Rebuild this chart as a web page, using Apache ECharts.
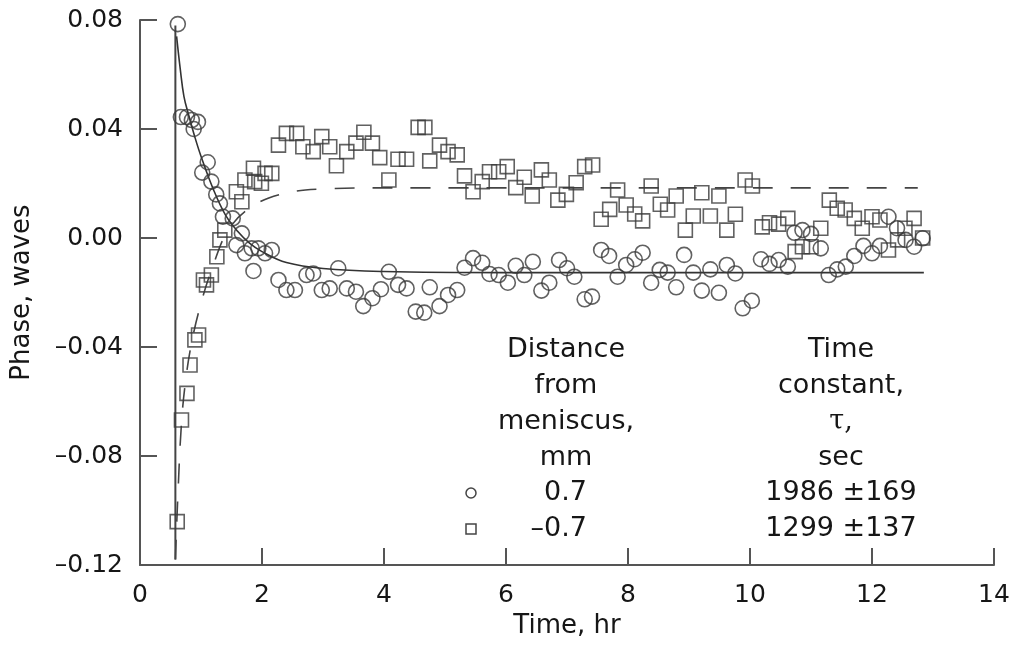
<!DOCTYPE html>
<html>
<head>
<meta charset="utf-8">
<script src="https://cdn.jsdelivr.net/npm/echarts@6/dist/echarts.min.js"></script>
<style>
html,body{margin:0;padding:0;background:#fff;}
#c{width:1014px;height:645px;}
</style>
</head>
<body>
<div id="c"></div>
<script>
// ---- data ----
const xTicks = [0, 2, 4, 6, 8, 10, 12, 14];
const yTicks = [-0.12, -0.08, -0.04, 0.00, 0.04, 0.08];

// circles: distance from meniscus 0.7 mm
const circT = [0.62,0.67,0.77,0.85,0.95,0.88,1.11,1.02,1.17,1.25,1.31,1.36,1.52,1.67,1.58,1.72,1.83,1.94,2.05,2.16,1.86,2.27,2.40,2.54,2.73,2.84,2.98,3.11,3.25,3.39,3.54,3.66,3.81,3.95,4.08,4.23,4.37,4.52,4.66,4.75,4.91,5.05,5.20,5.32,5.46,5.61,5.73,5.88,6.03,6.16,6.30,6.44,6.58,6.71,6.87,7.00,7.12,7.29,7.41,7.56,7.69,7.83,7.97,8.11,8.24,8.38,8.52,8.65,8.79,8.92,9.07,9.21,9.35,9.49,9.62,9.76,9.88,10.03,10.18,10.32,10.47,10.62,10.73,10.86,11.00,11.16,11.29,11.43,11.57,11.71,11.86,12.00,12.13,12.27,12.41,12.55,12.69,12.83];
const circY = [0.0785,0.0444,0.0444,0.0433,0.0426,0.0400,0.0278,0.0240,0.0207,0.0160,0.0127,0.0078,0.0072,0.0017,-0.0026,-0.0056,-0.0038,-0.0038,-0.0056,-0.0044,-0.0121,-0.0154,-0.0191,-0.0191,-0.0136,-0.0130,-0.0191,-0.0185,-0.0111,-0.0185,-0.0197,-0.0250,-0.0221,-0.0188,-0.0124,-0.0172,-0.0185,-0.0270,-0.0274,-0.0181,-0.0250,-0.0209,-0.0191,-0.0109,-0.0074,-0.0091,-0.0132,-0.0136,-0.0164,-0.0102,-0.0136,-0.0087,-0.0193,-0.0164,-0.0081,-0.0111,-0.0142,-0.0225,-0.0215,-0.0044,-0.0066,-0.0142,-0.0099,-0.0078,-0.0054,-0.0164,-0.0117,-0.0127,-0.0181,-0.0062,-0.0127,-0.0193,-0.0115,-0.0201,-0.0099,-0.0130,-0.0258,-0.0230,-0.0078,-0.0095,-0.0081,-0.0105,0.0019,0.0029,0.0015,-0.0038,-0.0136,-0.0115,-0.0105,-0.0066,-0.0029,-0.0056,-0.0029,0.0078,0.0036,-0.0007,-0.0032,-0.0001];

// squares: distance from meniscus -0.7 mm
const sqT = [0.61,0.68,0.77,0.82,0.90,0.96,1.04,1.09,1.17,1.26,1.31,1.39,1.58,1.67,1.72,1.88,1.99,1.86,2.05,2.16,2.27,2.40,2.57,2.67,2.84,2.98,3.11,3.22,3.39,3.54,3.67,3.81,3.93,4.08,4.23,4.37,4.56,4.67,4.75,4.91,5.05,5.20,5.32,5.46,5.61,5.73,5.88,6.02,6.16,6.30,6.43,6.58,6.71,6.85,6.99,7.15,7.29,7.42,7.56,7.70,7.83,7.97,8.11,8.24,8.38,8.53,8.65,8.79,8.94,9.07,9.21,9.35,9.49,9.62,9.76,9.92,10.04,10.20,10.32,10.47,10.62,10.74,10.86,11.00,11.16,11.30,11.43,11.56,11.71,11.84,12.00,12.13,12.27,12.42,12.54,12.69,12.83];
const sqY = [-0.1041,-0.0668,-0.0570,-0.0466,-0.0374,-0.0356,-0.0154,-0.0172,-0.0136,-0.0069,-0.0007,0.0029,0.0170,0.0133,0.0213,0.0207,0.0201,0.0256,0.0237,0.0237,0.0341,0.0384,0.0384,0.0335,0.0317,0.0372,0.0335,0.0265,0.0317,0.0348,0.0388,0.0348,0.0295,0.0213,0.0289,0.0289,0.0406,0.0406,0.0283,0.0341,0.0317,0.0305,0.0228,0.0170,0.0207,0.0243,0.0243,0.0262,0.0185,0.0223,0.0154,0.0250,0.0213,0.0139,0.0160,0.0203,0.0262,0.0268,0.0069,0.0105,0.0176,0.0121,0.0088,0.0063,0.0191,0.0124,0.0103,0.0154,0.0029,0.0081,0.0166,0.0081,0.0154,0.0029,0.0087,0.0213,0.0191,0.0041,0.0056,0.0051,0.0072,-0.0050,-0.0032,-0.0032,0.0036,0.0139,0.0109,0.0103,0.0072,0.0036,0.0078,0.0066,-0.0044,-0.0007,0.0036,0.0072,0.0000];

// fitted curves
const fitCircT = [0.60,0.66,0.72,0.80,0.90,1.00,1.20,1.40,1.60,1.80,2.00,2.40,3.00,4.00,6.00,12.85];
const fitCircY = [0.074,0.062,0.052,0.045,0.037,0.030,0.018,0.0085,0.0025,-0.0020,-0.0050,-0.0090,-0.0112,-0.0123,-0.0127,-0.0127];
const fitSqT = [0.58,0.62,0.68,0.75,0.85,1.00,1.20,1.45,1.80,2.30,3.00,4.00,12.75];
const fitSqY = [-0.118,-0.095,-0.068,-0.052,-0.038,-0.024,-0.010,0.003,0.011,0.0160,0.0180,0.0184,0.0184];

// vertical start marker
const startT = [0.58, 0.58];
const startY = [0.078, -0.118];

// legend text
const legendLeftHead = ['Distance', 'from', 'meniscus,', 'mm'];
const legendRightHead = ['Time', 'constant,', 'τ,', 'sec'];
const seriesDistance = ['0.7', '–0.7'];
const seriesTau = ['1986 ±169', '1299 ±137'];

// ---- chart ----
const zip = (a, b) => a.map((v, i) => [v, b[i]]);
const FONT = '"DejaVu Sans", "Liberation Sans", Arial, sans-serif';
const INK = '#161616';
const AX = '#555';

const chart = echarts.init(document.getElementById('c'), null, {renderer: 'canvas'});

const rowY = [350, 386, 422, 458, 493, 529];
const graphics = [];
legendLeftHead.forEach((t, i) => graphics.push({
  type: 'text', x: 566, y: rowY[i],
  style: {text: t, textAlign: 'center', textVerticalAlign: 'middle', font: '27px ' + FONT, fill: INK}
}));
legendRightHead.forEach((t, i) => graphics.push({
  type: 'text', x: 841, y: rowY[i],
  style: {text: t, textAlign: 'center', textVerticalAlign: 'middle',
    font: (t === 'τ,' ? '27px "DejaVu Serif", "Liberation Serif", serif' : '27px ' + FONT), fill: INK}
}));
seriesDistance.forEach((t, i) => graphics.push({
  type: 'text', x: 587, y: rowY[4 + i],
  style: {text: t, textAlign: 'right', textVerticalAlign: 'middle', font: '27px ' + FONT, fill: INK}
}));
seriesTau.forEach((t, i) => graphics.push({
  type: 'text', x: 841, y: rowY[4 + i],
  style: {text: t, textAlign: 'center', textVerticalAlign: 'middle', font: '27px ' + FONT, fill: INK}
}));
graphics.push({type: 'circle', shape: {cx: 471, cy: rowY[4], r: 5}, style: {fill: 'none', stroke: '#444', lineWidth: 1.5}});
graphics.push({type: 'rect', shape: {x: 466, y: rowY[5] - 5, width: 10, height: 10}, style: {fill: 'none', stroke: '#444', lineWidth: 1.5}});

chart.setOption({
  animation: false,
  backgroundColor: '#fff',
  grid: {left: 140, right: 20, top: 20, bottom: 80, containLabel: false, outerBoundsMode: 'none'},
  xAxis: {
    type: 'value', min: xTicks[0], max: xTicks[xTicks.length - 1], interval: 2,
    name: 'Time, hr', nameLocation: 'middle', nameGap: 48,
    nameTextStyle: {fontFamily: FONT, fontSize: 26, color: INK},
    axisLine: {show: true, onZero: false, lineStyle: {color: AX, width: 2}},
    axisTick: {show: true, inside: true, length: 17, lineStyle: {color: AX, width: 2}},
    axisLabel: {fontFamily: FONT, fontSize: 25, color: INK, margin: 18},
    splitLine: {show: false}
  },
  yAxis: {
    type: 'value', min: yTicks[0], max: yTicks[yTicks.length - 1], interval: 0.04,
    name: 'Phase, waves', nameLocation: 'middle', nameGap: 105,
    nameTextStyle: {fontFamily: FONT, fontSize: 26, color: INK},
    axisLine: {show: true, onZero: false, lineStyle: {color: AX, width: 2}},
    axisTick: {show: true, inside: true, length: 17, lineStyle: {color: AX, width: 2}},
    axisLabel: {fontFamily: FONT, fontSize: 25, color: INK, margin: 17,
      formatter: v => (v < -1e-9 ? '–' : '') + Math.abs(v).toFixed(2)},
    splitLine: {show: false}
  },
  graphic: graphics,
  series: [
    {type: 'line', data: zip(startT, startY), symbol: 'none', lineStyle: {color: '#444', width: 2}, z: 1},
    {type: 'line', data: zip(fitCircT, fitCircY), smooth: 0.4, symbol: 'none', lineStyle: {color: '#333', width: 1.6}, z: 2},
    {type: 'line', data: zip(fitSqT, fitSqY), smooth: 0.4, symbol: 'none', lineStyle: {color: '#444', width: 1.6, type: [20, 18]}, z: 2},
    {type: 'scatter', data: zip(circT, circY), symbol: 'circle', symbolSize: 15,
      itemStyle: {color: 'transparent', borderColor: '#3a3a3a', borderWidth: 1.6}, z: 3},
    {type: 'scatter', data: zip(sqT, sqY), symbol: 'rect', symbolSize: 14,
      itemStyle: {color: 'transparent', borderColor: '#3a3a3a', borderWidth: 1.6}, z: 3}
  ]
});
</script>
</body>
</html>
